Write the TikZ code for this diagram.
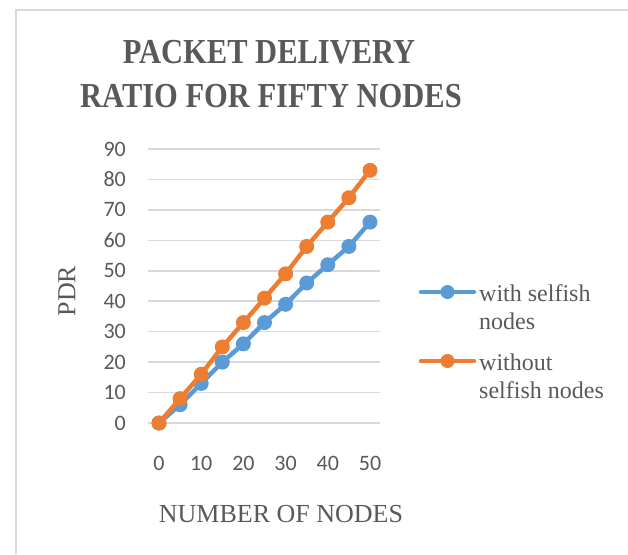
\documentclass[tikz,border=0pt]{standalone}
\usepackage{fontspec}
\setmainfont{Liberation Serif}
\newfontfamily\tickfont{Carlito}
\definecolor{txtgray}{HTML}{595959}
\definecolor{gridgray}{HTML}{D9D9D9}
\definecolor{serblue}{HTML}{5B9BD5}
\definecolor{serorange}{HTML}{ED7D31}
\begin{document}
\begin{tikzpicture}[x=1pt,y=-1pt,
    tick/.style={font=\tickfont\fontsize{22}{26}\selectfont,text=txtgray,inner sep=0pt},
    axtitle/.style={font=\fontsize{26}{30}\selectfont,text=txtgray,inner sep=0pt},
    charttitle/.style={font=\bfseries\fontsize{30.5}{44}\selectfont,text=txtgray,inner sep=0pt,anchor=base,yscale=1.15},
    legtext/.style={font=\fontsize{24}{28}\selectfont,text=txtgray,inner sep=0pt,anchor=base west},
    gridline/.style={gridgray,line width=1.5pt},
    series/.style={line width=4.5pt,line join=round,line cap=round}]
    \useasboundingbox (0,0) rectangle (628,554);

    % Chart frame
    \draw[gridgray,line width=2pt] (16,554) -- (16,10) -- (628,10);

    % Title
    \node[charttitle] (title1) at (269,63) {PACKET DELIVERY};
    \node[charttitle] (title2) at (271,107) {RATIO FOR FIFTY NODES};

    % Grid and y ticks
    \foreach \v in {0,10,...,90} {
        \draw[gridline] (148,{423-3.044*\v}) -- (380,{423-3.044*\v});
        \node[tick,anchor=east] (y\v) at (126,{423-3.044*\v}) {\v};
    }

    % x ticks
    \foreach \d in {0,10,...,50}
        \node[tick,anchor=base] (x\d) at ({159+4.22*\d},470) {\d};

    % Axis titles
    \node[axtitle,rotate=90] (ytitle) at (67,291) {PDR};
    \node[axtitle,anchor=base] (xtitle) at (281,522) {NUMBER OF NODES};

    % With selfish nodes
    \foreach \i/\v in {0/0,1/6,2/13,3/20,4/26,5/33,6/39,7/46,8/52,9/58,10/66}
        \coordinate (b\i) at ({159+21.1*\i},{423-3.044*\v});
    \draw[serblue,series] (b0) \foreach \i in {1,...,10} {-- (b\i)};
    \foreach \i in {0,...,10}
        \fill[serblue] (b\i) circle[radius=7.5];

    % Without selfish nodes
    \foreach \i/\v in {0/0,1/8,2/16,3/25,4/33,5/41,6/49,7/58,8/66,9/74,10/83}
        \coordinate (o\i) at ({159+21.1*\i},{423-3.044*\v});
    \draw[serorange,series] (o0) \foreach \i in {1,...,10} {-- (o\i)};
    \foreach \i in {0,...,10}
        \fill[serorange] (o\i) circle[radius=7.5];

    % Legend
    \coordinate (lb1) at (421,292);
    \coordinate (lb2) at (474,292);
    \draw[serblue,series] (lb1) -- (lb2);
    \fill[serblue] (447.5,292) circle[radius=7];
    \node[legtext] (leg1a) at (479,301) {with selfish};
    \node[legtext] (leg1b) at (479,329) {nodes};

    \coordinate (lo1) at (421,361);
    \coordinate (lo2) at (474,361);
    \draw[serorange,series] (lo1) -- (lo2);
    \fill[serorange] (447.5,361) circle[radius=7];
    \node[legtext] (leg2a) at (479,370) {without};
    \node[legtext] (leg2b) at (479,398) {selfish nodes};
\end{tikzpicture}
\end{document}
